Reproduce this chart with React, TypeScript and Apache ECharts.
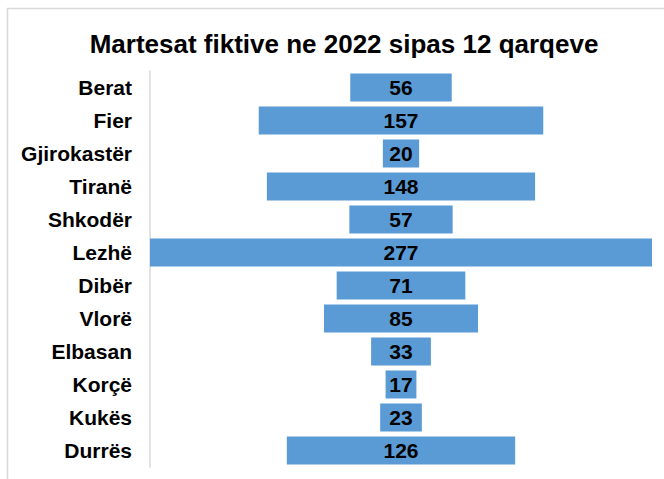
import React, { useEffect, useRef } from "react";
import * as echarts from "echarts";

const categories = ["Berat", "Fier", "Gjirokastër", "Tiranë", "Shkodër", "Lezhë", "Dibër", "Vlorë", "Elbasan", "Korçë", "Kukës", "Durrës"];
const values = [56, 157, 20, 148, 57, 277, 71, 85, 33, 17, 23, 126];
const titleText = "Martesat fiktive ne 2022 sipas 12 qarqeve";

export default function App() {
  const ref = useRef<HTMLDivElement>(null);
  useEffect(() => {
    if (!ref.current) return;
    const chart = echarts.init(ref.current, undefined, { renderer: "svg" });
    const maxV = Math.max(...values);
    const offsets = values.map((v) => (maxV - v) / 2);
    const font = "'Liberation Sans', Arial, sans-serif";
    chart.setOption({
      animation: false,
      backgroundColor: "#ffffff",
      title: {
        text: titleText,
        left: 339,
        top: 26,
        textAlign: "center",
        textStyle: { fontFamily: font, fontSize: 26, fontWeight: "bold", color: "#000000" },
      },
      graphic: [
        {
          type: "rect",
          shape: { x: 7.5, y: 8.5, width: 700, height: 500 },
          style: { fill: "none", stroke: "#d9d9d9", lineWidth: 1.5 },
          silent: true,
        },
      ],
      grid: { left: 150, right: 12, top: 71, bottom: 12, containLabel: false },
      xAxis: { type: "value", min: 0, max: maxV, show: false },
      yAxis: {
        type: "category",
        data: categories,
        inverse: true,
        axisLine: { show: true, lineStyle: { color: "#d9d9d9", width: 1.5 } },
        axisTick: { show: false },
        axisLabel: { margin: 18, fontFamily: font, fontSize: 21, fontWeight: "bold", color: "#000000" },
        splitLine: { show: false },
      },
      series: [
        {
          type: "bar",
          stack: "s",
          data: offsets,
          itemStyle: { color: "transparent" },
          barWidth: 28,
          silent: true,
        },
        {
          type: "bar",
          stack: "s",
          data: values,
          barWidth: 28,
          itemStyle: { color: "#5b9bd5" },
          label: {
            show: true,
            position: "inside",
            fontFamily: font,
            fontSize: 21,
            fontWeight: "bold",
            color: "#000000",
          },
        },
      ],
    });
    return () => chart.dispose();
  }, []);
  return <div ref={ref} style={{ position: "fixed", left: 0, top: 0, width: 664, height: 479 }} />;
}
